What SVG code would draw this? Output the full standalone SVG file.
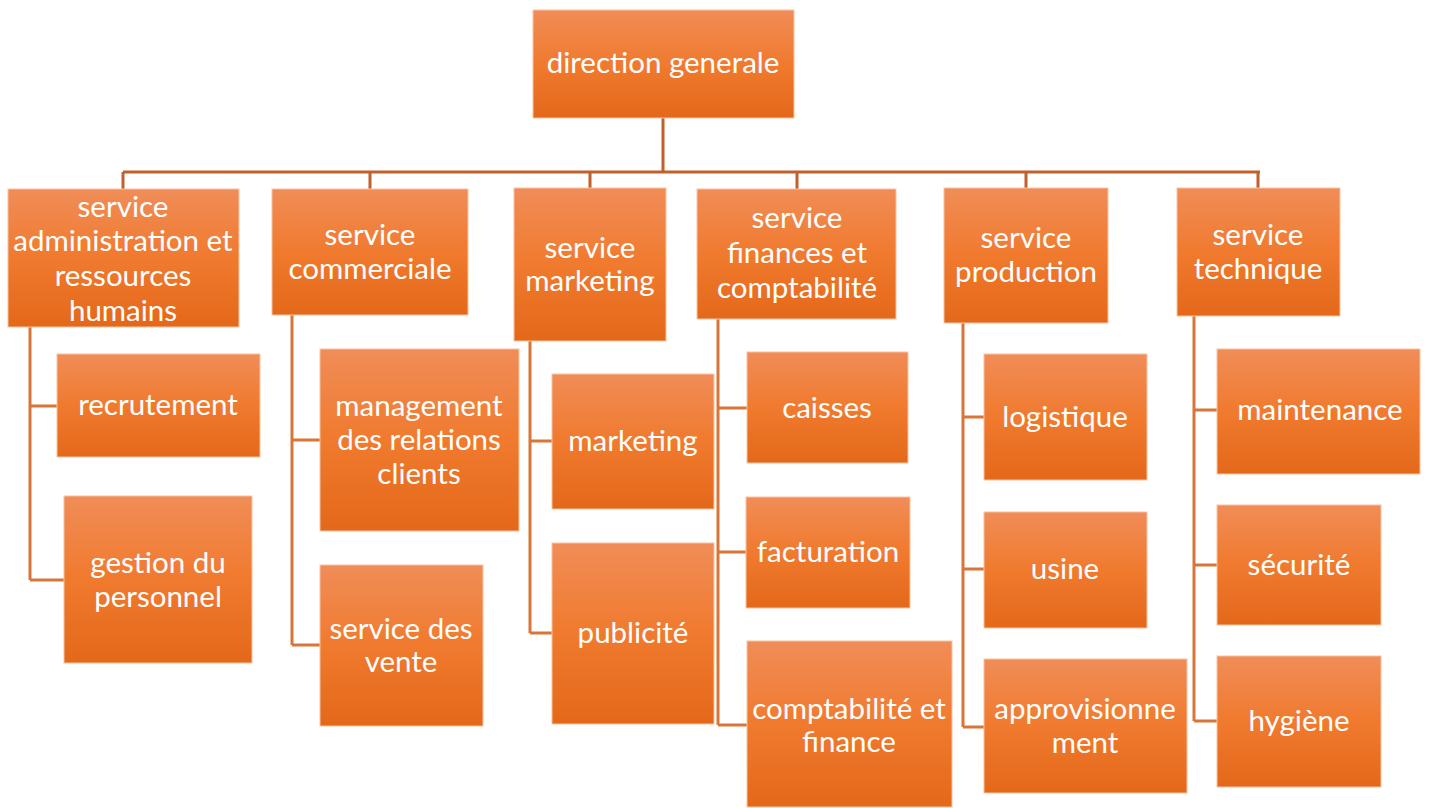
<svg xmlns="http://www.w3.org/2000/svg" width="1430" height="808" viewBox="0 0 1430 808">
  <defs>
    <linearGradient id="boxFill" x1="0" y1="0" x2="0" y2="1">
      <stop offset="0" stop-color="#F08D58"/>
      <stop offset="0.5" stop-color="#F07A2E"/>
      <stop offset="1" stop-color="#E4681A"/>
    </linearGradient>
  </defs>
  <style>
    rect.box { fill: url(#boxFill); stroke: #F7C4A2; stroke-width: 1; }
    text { font-family: "Lato", "Open Sans", "Liberation Sans", sans-serif; font-size: 29.5px; fill: #FFFFFF; text-anchor: middle; dominant-baseline: central; }
    .top { stroke: #C0602A; stroke-width: 3; fill: none; }
    .spine { stroke: #D8763A; stroke-width: 3; fill: none; }
  </style>
  <rect width="1430" height="808" fill="#FFFFFF"/>

  <!-- connectors -->
  <g id="connectors">
    <path class="top" d="M663 118 V172 M123 172 H1260 M123 172 V189 M370 172 V189 M590 172 V188 M797 172 V189 M1026 172 V188 M1258 172 V188"/>
    <path class="spine" d="M30 327 V580 M30 406 H57 M30 580 H64"/>
    <path class="spine" d="M292 315 V645 M292 440 H320 M292 645 H320"/>
    <path class="spine" d="M530 341 V633 M530 441 H552 M530 633 H552"/>
    <path class="spine" d="M718 319 V725 M718 408 H747 M718 552 H746 M718 725 H747"/>
    <path class="spine" d="M963 323 V727 M963 417 H984 M963 569 H984 M963 727 H984"/>
    <path class="spine" d="M1194 316 V721 M1194 410 H1217 M1194 565 H1217 M1194 721 H1217"/>
  </g>

  <!-- top -->
  <g id="direction-generale">
    <rect class="box" x="533" y="10" width="261" height="108"/>
    <text x="663" y="61">direction generale</text>
  </g>

  <!-- departments -->
  <g id="service-administration">
    <rect class="box" x="8" y="189" width="231" height="138"/>
    <text x="123" y="205">service</text>
    <text x="123" y="239">administration et</text>
    <text x="123" y="274">ressources</text>
    <text x="123" y="309">humains</text>
  </g>
  <g id="service-commerciale">
    <rect class="box" x="272" y="189" width="196" height="126"/>
    <text x="370" y="233">service</text>
    <text x="370" y="267">commerciale</text>
  </g>
  <g id="service-marketing">
    <rect class="box" x="514" y="188" width="152" height="153"/>
    <text x="590" y="246">service</text>
    <text x="590" y="279">marketing</text>
  </g>
  <g id="service-finances">
    <rect class="box" x="697" y="189" width="199" height="130"/>
    <text x="797" y="216">service</text>
    <text x="797" y="251">finances et</text>
    <text x="797" y="286">comptabilité</text>
  </g>
  <g id="service-production">
    <rect class="box" x="944" y="188" width="164" height="135"/>
    <text x="1026" y="236">service</text>
    <text x="1026" y="270">production</text>
  </g>
  <g id="service-technique">
    <rect class="box" x="1177" y="188" width="163" height="128"/>
    <text x="1258" y="233">service</text>
    <text x="1258" y="267">technique</text>
  </g>

  <!-- administration children -->
  <g id="recrutement">
    <rect class="box" x="57" y="354" width="203" height="103"/>
    <text x="158" y="403">recrutement</text>
  </g>
  <g id="gestion-personnel">
    <rect class="box" x="64" y="496" width="188" height="167"/>
    <text x="158" y="561">gestion du</text>
    <text x="158" y="595">personnel</text>
  </g>

  <!-- commercial children -->
  <g id="management-relations">
    <rect class="box" x="320" y="349" width="199" height="182"/>
    <text x="419" y="404">management</text>
    <text x="419" y="438">des relations</text>
    <text x="419" y="472">clients</text>
  </g>
  <g id="service-vente">
    <rect class="box" x="320" y="565" width="163" height="161"/>
    <text x="401" y="627">service des</text>
    <text x="401" y="660">vente</text>
  </g>

  <!-- marketing children -->
  <g id="marketing">
    <rect class="box" x="552" y="374" width="162" height="135"/>
    <text x="633" y="439">marketing</text>
  </g>
  <g id="publicite">
    <rect class="box" x="552" y="543" width="162" height="181"/>
    <text x="633" y="631">publicité</text>
  </g>

  <!-- finance children -->
  <g id="caisses">
    <rect class="box" x="747" y="352" width="161" height="111"/>
    <text x="827" y="406">caisses</text>
  </g>
  <g id="facturation">
    <rect class="box" x="746" y="497" width="164" height="111"/>
    <text x="828" y="550">facturation</text>
  </g>
  <g id="comptabilite-finance">
    <rect class="box" x="747" y="641" width="205" height="166"/>
    <text x="849" y="707">comptabilité et</text>
    <text x="849" y="740">finance</text>
  </g>

  <!-- production children -->
  <g id="logistique">
    <rect class="box" x="984" y="354" width="163" height="126"/>
    <text x="1065" y="415">logistique</text>
  </g>
  <g id="usine">
    <rect class="box" x="984" y="512" width="163" height="116"/>
    <text x="1065" y="567">usine</text>
  </g>
  <g id="approvisionnement">
    <rect class="box" x="984" y="659" width="203" height="134"/>
    <text x="1085" y="707">approvisionne</text>
    <text x="1085" y="741">ment</text>
  </g>

  <!-- technical children -->
  <g id="maintenance">
    <rect class="box" x="1217" y="349" width="203" height="125"/>
    <text x="1320" y="408">maintenance</text>
  </g>
  <g id="securite">
    <rect class="box" x="1217" y="505" width="164" height="120"/>
    <text x="1299" y="563">sécurité</text>
  </g>
  <g id="hygiene">
    <rect class="box" x="1217" y="656" width="164" height="131"/>
    <text x="1299" y="719">hygiène</text>
  </g>
</svg>
